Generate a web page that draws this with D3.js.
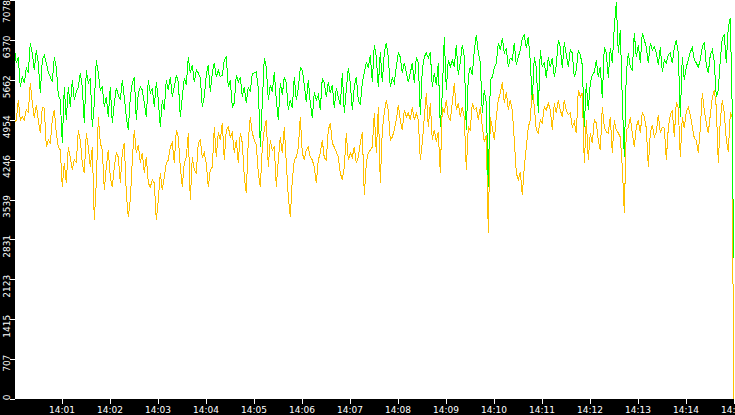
<!DOCTYPE html>
<html>
<head>
<meta charset="utf-8">
<script src="https://cdn.jsdelivr.net/npm/d3@7"></script>
<style>
html,body{margin:0;padding:0;background:#000;}
svg{display:block;}
</style>
</head>
<body>
<svg id="chart" width="735" height="415"></svg>
<script>
// ---- data ----
const startTime = new Date(2024, 0, 1, 14, 0, 1);   // first sample
const stepMs = 2500;                                // sample interval
const endTime = new Date(2024, 0, 1, 14, 15, 0);    // last sample
const domainStart = new Date(2024, 0, 1, 14, 0, 0);

const greenValues = [
6244,5960,6067,5535,5712,5606,5872,5783,6315,6138,
5836,6191,5960,5428,6014,6102,5960,5801,5712,5623,
6067,5889,5393,5304,4541,5535,4949,5535,5180,5659,
5304,5446,5535,5783,5535,4896,5836,5606,5694,4825,
5251,6014,5783,5481,5535,5180,5357,5002,5535,4896,
5251,5517,5393,5304,5659,5357,5002,4772,5357,5606,
5712,4949,5428,5535,5481,5251,5002,5659,5428,5517,
5180,5623,5304,4825,5304,5127,5659,5481,5712,5357,
5535,5747,5623,5002,5357,5694,5570,6067,5783,5925,
5623,5836,5783,5694,5180,5357,5747,5925,5446,5783,
5960,5712,5836,5712,5747,6014,6067,5535,5659,5180,
5251,5747,5623,5712,5357,5535,5251,5535,5446,5783,
5783,5801,5517,4470,5251,6049,5889,5304,5570,5446,
5801,5304,4949,5606,5393,5712,5606,5127,5304,5162,
5712,5304,5517,5872,5836,5570,5269,5659,5251,4985,
5446,5304,5393,5127,5694,5606,5357,5623,5428,5570,
5162,5517,5357,5215,5783,5073,5481,5872,5606,5127,
5535,5712,5304,5215,5606,5783,5978,5872,6102,5623,
6280,6067,5535,6156,5623,6138,6315,6067,5535,5694,
5606,5889,6138,6067,5783,5960,5801,5623,5783,5960,
5606,6067,5960,5038,5836,6067,6138,6049,6156,5535,
5783,5570,5960,4825,5428,6422,5481,6014,5889,6014,
5889,6280,5747,5978,6280,6067,4772,5712,5889,5747,
6191,6457,6156,5960,5073,5481,5251,3761,5659,5712,
5872,5960,6315,6191,6404,6138,6226,5889,6049,6014,
6315,5925,6067,6191,6404,6457,6226,6422,5978,5304,
6067,5889,5073,6191,5889,5978,5694,6067,5889,6049,
5712,5925,6368,6244,5872,6333,6102,5889,6191,6138,
5712,5836,6191,6102,5925,4825,5606,5127,5606,5747,
5801,6014,5712,5889,5339,6244,6138,5694,6226,5960,
6599,7043,6138,6546,5304,4293,5783,6138,5889,5836,
6493,6067,6280,5960,6493,
6368,6244,5960,6315,6191,6244,6138,5925,6244,5801,
6014,5960,6102,6138,5960,6226,6368,6138,5002,6067,
5659,5889,6014,6156,6226,6014,5960,5889,6014,6244,
6333,5925,5783,6102,6191,5978,5357,5481,6014,6404,
6457,5960,6599,6759,5073,
2501
];

const orangeValues = [
4896,4949,5304,4949,5002,4949,5127,5091,5606,5251,
4985,5215,4949,4719,5180,5162,4470,4594,4541,4949,
5127,4719,4470,4417,3761,4186,3832,4470,4293,4062,
4240,4204,4772,4594,4186,4009,4719,4470,4115,4470,
3175,3832,5002,4541,4417,3707,4115,4417,3938,3761,
4115,4364,4293,3832,4364,4541,3654,3228,3530,4240,
4772,4364,4506,4186,4364,4009,4293,3832,3761,3885,
3832,3175,3530,4009,3707,3938,4186,4240,4470,4541,
4186,4772,4648,4115,3761,4186,4293,4719,3530,4293,
4062,4009,4541,4594,4293,4364,4186,3761,4062,4115,
4825,4293,4736,4594,4896,4240,4772,4825,4648,4719,
4364,4594,4186,4719,4541,3938,3654,4594,5002,4719,
4594,4506,4009,3761,4470,4772,4949,4115,4594,4417,
4470,3761,4240,4648,4364,4825,4186,3583,3228,3885,
4240,4293,4452,5002,4364,4240,4417,4470,4293,4240,
4115,3832,4240,4364,4594,4275,4240,4772,4896,4541,
4470,4382,4293,4009,3885,4115,4719,4240,4364,4293,
4470,4186,4293,4541,4736,3619,4186,4364,4417,4470,
5073,4364,5180,3832,4772,5073,5304,5127,4594,4648,
4772,4949,5215,4949,4772,5127,5002,5073,4949,5180,
4949,5073,4949,4240,4541,5002,5428,4825,5251,4594,
4772,4559,4736,4009,5180,5073,5304,5002,4949,5251,
5606,5127,5251,5002,5180,5002,4062,4825,4772,5251,
5127,5162,4949,5180,4825,4559,4683,2945,5002,4825,
4594,5002,5304,5428,5623,5251,5446,5127,5304,5127,
4594,4009,3885,4027,3619,4115,4470,4825,4949,5535,
5180,4772,4719,4949,4896,5180,5127,5251,5127,4772,
5251,5073,5304,5127,5002,5304,5127,5038,5073,4825,
4914,4719,5481,5357,5428,4186,4949,4240,4719,4541,
4949,4896,4594,4417,5180,4825,4736,4719,5002,4364,
4949,4772,4719,4648,4115,3299,4772,4807,5002,4719,
4470,4825,4949,4719,5091,
5002,4807,4115,4719,4860,4648,4736,5038,4719,4825,
4807,4240,4807,5038,5127,4648,5269,5162,4293,5002,
4807,5091,5180,5038,4825,4630,4594,4364,4807,5428,
5127,4896,4719,5038,5339,5481,5180,4186,4949,5304,
5073,4594,4382,5073,5002,
0
];

const yTickValues = [0, 707, 1415, 2123, 2831, 3539, 4246, 4954, 5662, 6370, 7078];
const yMax = 7078;
const xTickLabels = ["14:01","14:02","14:03","14:04","14:05","14:06","14:07","14:08",
                     "14:09","14:10","14:11","14:12","14:13","14:14","14:15"];

// ---- build ----
const n = greenValues.length;
const times = d3.range(n).map(i => i === n - 1 ? endTime : new Date(startTime.getTime() + i * stepMs));
const greenData = times.map((t, i) => ({t, v: greenValues[i]}));
const orangeData = times.map((t, i) => ({t, v: orangeValues[i]}));

const W = 735, H = 415;
const plot = {left: 15, top: 0, right: 735, bottom: 399};

const svg = d3.select("#chart");
const x = d3.scaleTime().domain([domainStart, endTime]).range([13.5, 733.5]);
const y = d3.scaleLinear().domain([0, yMax]).range([plot.bottom, plot.top]);

svg.append("rect").attr("x", 0).attr("y", 0).attr("width", W).attr("height", H).attr("fill", "#000");
svg.append("rect").attr("x", plot.left).attr("y", plot.top)
  .attr("width", plot.right - plot.left).attr("height", plot.bottom - plot.top).attr("fill", "#fff");

svg.append("clipPath").attr("id", "clip").append("rect")
  .attr("x", plot.left).attr("y", plot.top)
  .attr("width", plot.right - plot.left).attr("height", plot.bottom - plot.top);

const line = d3.line().x(d => x(d.t)).y(d => y(d.v));
const g = svg.append("g").attr("clip-path", "url(#clip)");
g.append("path").datum(orangeData).attr("d", line)
  .attr("fill", "none").attr("stroke", "#ffc000").attr("stroke-width", 1)
  .attr("shape-rendering", "crispEdges");
g.append("path").datum(greenData).attr("d", line)
  .attr("fill", "none").attr("stroke", "#00ff00").attr("stroke-width", 1)
  .attr("shape-rendering", "crispEdges");

// y axis
const yAxis = d3.axisLeft(y).tickValues(yTickValues).tickSize(5).tickFormat(d3.format("d"));
const ya = svg.append("g").attr("transform", `translate(${plot.left},0)`).call(yAxis);
ya.select(".domain").remove();
ya.selectAll(".tick line").attr("stroke", "#fff").attr("shape-rendering", "crispEdges");
ya.selectAll(".tick text")
  .attr("fill", "#fff")
  .attr("font-family", "DejaVu Sans")
  .attr("font-size", 9)
  .attr("text-anchor", "end")
  .attr("dy", null)
  .attr("x", null)
  .attr("transform", d => {
    const yy = y(d);
    const shift = Math.max(-5, -yy - 0.5);   // keep the topmost label inside the picture
    return `translate(-5,${shift}) rotate(-90)`;
  });

// x axis
const parse = d3.timeParse("%H:%M");
const xTicks = xTickLabels.map(s => {
  const p = parse(s);
  return new Date(2024, 0, 1, p.getHours(), p.getMinutes(), 0);
});
const xAxis = d3.axisBottom(x).tickValues(xTicks).tickSize(5).tickFormat(d3.timeFormat("%H:%M"));
const xa = svg.append("g").attr("transform", `translate(0,${plot.bottom})`).call(xAxis);
xa.select(".domain").remove();
xa.selectAll(".tick line").attr("stroke", "#fff").attr("shape-rendering", "crispEdges");
xa.selectAll(".tick text")
  .attr("fill", "#fff")
  .attr("font-family", "DejaVu Sans")
  .attr("font-size", 9)
  .attr("y", 14)
  .attr("dy", null);
</script>
</body>
</html>
